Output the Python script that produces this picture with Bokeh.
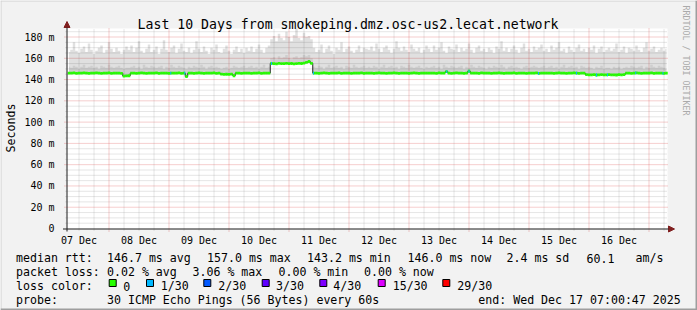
import math
from bokeh.plotting import figure
from bokeh.models import Range1d, FixedTicker, LinearAxis, Label, Arrow, NormalHead
from bokeh.embed import file_html
from bokeh.resources import INLINE

# ---------------- data (hours since 07 Dec 00:00, one sample per hour, 08:00 Dec 7 .. 07:00 Dec 17)
hours = list(range(8, 248))

smoke_top = [
    166, 168, 175, 167, 165, 169, 171, 166, 174, 168, 164, 167, 170, 172, 165, 168, 175, 169, 166, 170, 167, 164, 168, 171,
    168, 172, 166, 170, 176, 167, 165, 169, 173, 166, 168, 171, 164, 169, 177, 168, 166, 170, 172, 165, 169, 174, 167, 166,
    170, 165, 168, 176, 169, 166, 171, 167, 164, 170, 168, 173, 166, 165, 169, 172, 167, 164, 168, 171, 166, 169, 165, 170,
    167, 171, 166, 169, 173, 168, 165, 170, 172, 178, 181, 176, 183, 179, 177, 185, 180, 176, 182, 188, 179, 177, 184, 180,
    181, 178, 170, 166, 168, 173, 165, 169, 172, 167, 164, 170, 168, 175, 166, 169, 171, 167, 165, 168, 172, 166, 170, 169,
    168, 171, 167, 174, 169, 166, 170, 172, 168, 165, 169, 176, 170, 167, 171, 168, 166, 173, 169, 167, 170, 165, 168, 172,
    169, 166, 172, 168, 170, 175, 167, 165, 171, 169, 168, 173, 166, 170, 167, 169, 174, 168, 165, 170, 172, 167, 169, 166,
    170, 168, 165, 171, 169, 176, 167, 170, 166, 169, 172, 168, 165, 170, 174, 167, 169, 166, 171, 168, 170, 173, 167, 169,
    166, 172, 168, 170, 175, 167, 169, 165, 171, 168, 166, 170, 173, 167, 169, 166, 170, 168, 172, 165, 169, 171, 166, 168,
    170, 167, 169, 174, 166, 168, 171, 165, 170, 169, 167, 172, 168, 166, 170, 175, 167, 169, 171, 166, 168, 170, 167, 169,
]

smoke_core = [
    152, 151, 153, 152, 150, 152, 154, 151, 152, 153, 151, 152, 150, 153, 152, 151, 154, 152, 151, 152, 153, 151, 150, 151,
    151, 152, 153, 151, 152, 150, 154, 152, 151, 153, 152, 151, 152, 153, 150, 152, 151, 154, 152, 151, 153, 152, 151, 150,
    152, 151, 153, 152, 151, 154, 152, 150, 152, 153, 151, 152, 151, 150, 151, 152, 150, 151, 153, 152, 151, 152, 153, 151,
    152, 153, 151, 152, 150, 152, 154, 151, 152, 160, 161, 159, 162, 160, 161, 163, 160, 159, 161, 162, 160, 161, 163, 162,
    163, 160, 152, 151, 153, 152, 150, 152, 154, 151, 152, 153, 151, 152, 150, 153, 152, 151, 154, 152, 151, 152, 153, 151,
    152, 151, 153, 152, 150, 152, 154, 151, 152, 153, 151, 152, 150, 153, 152, 151, 154, 152, 151, 152, 153, 151, 150, 152,
    151, 152, 153, 151, 152, 150, 154, 152, 151, 153, 152, 151, 152, 153, 150, 152, 151, 154, 152, 151, 153, 152, 151, 150,
    152, 151, 153, 152, 151, 154, 152, 150, 152, 153, 151, 152, 151, 150, 152, 153, 151, 152, 153, 152, 151, 152, 153, 151,
    152, 153, 151, 152, 150, 152, 154, 151, 152, 153, 151, 152, 150, 153, 152, 151, 152, 151, 150, 152, 151, 153, 150, 151,
    151, 150, 152, 151, 152, 150, 151, 152, 151, 153, 152, 151, 152, 153, 150, 152, 151, 154, 152, 151, 153, 152, 151, 150,
]

median_rtt = [
    146.1, 146.0, 146.2, 145.9, 146.0, 146.1, 146.3, 146.0, 145.9, 146.1, 146.0, 146.2, 146.0, 145.8, 146.1, 146.0, 146.2, 145.9, 146.0, 146.1, 146.0, 145.9, 143.2, 143.4,
    143.6, 146.0, 146.1, 145.9, 146.0, 146.2, 146.0, 145.9, 146.1, 146.0, 146.0, 146.2, 145.9, 146.0, 146.1, 146.0, 145.8, 146.0, 146.1, 146.0, 146.2, 145.9, 146.0, 142.9,
    146.0, 146.1, 145.9, 146.0, 146.2, 146.0, 145.9, 146.1, 146.0, 146.0, 146.2, 145.9, 146.0, 145.1, 144.9, 145.0, 144.8, 145.1, 143.6, 146.0, 146.1, 145.9, 146.0, 146.1,
    146.0, 145.9, 146.1, 146.0, 146.2, 145.9, 146.0, 146.1, 146.0, 155.1, 155.0, 154.8, 155.2, 155.0, 154.9, 155.3, 155.0, 155.1, 154.8, 155.0, 155.2, 155.1, 155.4, 156.2,
    157.0, 155.3, 146.0, 146.1, 145.9, 146.0, 146.2, 146.0, 145.9, 146.1, 146.0, 146.0, 146.2, 145.9, 146.0, 146.1, 146.0, 145.8, 146.0, 146.1, 146.0, 146.2, 145.9, 146.0,
    146.1, 146.0, 145.9, 146.0, 146.2, 146.0, 146.1, 145.9, 146.0, 146.0, 146.2, 146.1, 145.9, 146.0, 146.1, 146.0, 145.8, 146.0, 146.2, 146.0, 145.9, 146.1, 146.0, 146.0,
    146.0, 146.1, 146.0, 145.9, 146.2, 146.0, 146.1, 147.5, 146.0, 145.9, 146.0, 146.2, 146.0, 146.1, 145.9, 146.0, 147.8, 146.0, 146.1, 146.0, 145.9, 146.2, 146.0, 146.1,
    146.0, 145.9, 146.1, 146.0, 146.2, 146.0, 145.9, 146.1, 146.0, 146.0, 146.2, 145.9, 146.0, 146.1, 146.0, 145.8, 146.0, 146.1, 146.0, 146.2, 145.9, 146.0, 146.1, 146.0,
    146.1, 146.0, 145.9, 146.0, 146.2, 146.0, 146.1, 145.9, 146.0, 146.0, 146.2, 146.1, 145.9, 146.0, 146.1, 144.6, 144.4, 144.5, 144.7, 144.3, 144.5, 144.6, 144.4, 144.5,
    144.6, 144.4, 144.5, 144.3, 144.6, 144.5, 144.7, 146.0, 146.1, 145.9, 146.0, 146.2, 146.0, 145.9, 146.1, 146.0, 146.0, 146.2, 145.9, 146.0, 146.1, 146.0, 145.8, 146.0,
]

# packet loss events (hour, lost pings out of 30)
loss_times = [48.7, 54.3, 89.0, 105.8, 159.1, 168.0, 195.8, 211.0, 219.0, 223.4, 234.7, 245.6]
loss_counts = [1, 1, 1, 1, 1, 1, 1, 1, 1, 1, 1, 1]

loss_levels = ["0", "1/30", "2/30", "3/30", "4/30", "15/30", "29/30"]
loss_colors = ["#26ff00", "#00b8ff", "#0059ff", "#5e00ff", "#7e00ff", "#dd00ff", "#ff0000"]
loss_level_counts = [0, 1, 2, 3, 4, 15, 29]

day_noon_hours = [12, 36, 60, 84, 108, 132, 156, 180, 204, 228]
day_labels = ["07 Dec", "08 Dec", "09 Dec", "10 Dec", "11 Dec", "12 Dec", "13 Dec", "14 Dec", "15 Dec", "16 Dec"]
midnight_hours = [24, 48, 72, 96, 120, 144, 168, 192, 216, 240]
six_hour_marks = [12, 18, 30, 36, 42, 54, 60, 66, 78, 84, 90, 102, 108, 114, 126, 132, 138, 150, 156, 162,
                  174, 180, 186, 198, 204, 210, 222, 228, 234, 246]

y_tick_values = [0, 20, 40, 60, 80, 100, 120, 140, 160, 180]
y_tick_labels = ["0", "20 m", "40 m", "60 m", "80 m", "100 m", "120 m", "140 m", "160 m", "180 m"]
y_minor_values = [5, 10, 15, 25, 30, 35, 45, 50, 55, 65, 70, 75, 85, 90, 95, 105, 110, 115,
                  125, 130, 135, 145, 150, 155, 165, 170, 175, 185]

title_text = "Last 10 Days from smokeping.dmz.osc-us2.lecat.network"
rtt_stats = ["146.7 ms avg", "157.0 ms max", "143.2 ms min", "146.0 ms now", "2.4 ms sd", "60.1", "am/s"]
loss_stats = ["0.02 % avg", "3.06 % max", "0.00 % min", "0.00 % now"]
probe_text = "30 ICMP Echo Pings (56 Bytes) every 60s"
end_text = "end: Wed Dec 17 07:00:47 2025"

# ---------------- layout: the frame covers the whole canvas, the graph area is a sub-rectangle
W, H = 697, 310
GL, GR, GT, GB = 67, 667, 28, 228          # graph area in pixels
X0 = 7.4                                    # hours at graph left edge
PXH = 2.5                                   # pixels per hour
X1 = X0 + (GR - GL) / PXH
Y0, Y1 = 0.0, 188.0
PXV = (GB - GT) / (Y1 - Y0)                 # pixels per ms
MONO = "DejaVu Sans Mono"


def dx(px):
    return X0 + (px - GL) / PXH


def dy(py):
    return Y0 + (GB - py) / PXV


p = figure(width=W, height=H, output_backend="svg", toolbar_location=None, title=None,
           x_axis_type=None, y_axis_type=None,
           x_range=Range1d(dx(0), dx(W)), y_range=Range1d(dy(H), dy(0)),
           min_border=0, min_border_left=0, min_border_right=0, min_border_top=0, min_border_bottom=0)
p.background_fill_color = "#f2f2f2"
p.border_fill_color = "#f2f2f2"
p.outline_line_color = None
p.grid.visible = False

# graph canvas
p.quad(left=X0, right=X1, bottom=Y0, top=Y1, fill_color="#ffffff", line_color=None)

# grid (minor gray dotted, major red dotted); slightly extended outside as rrdtool ticks
p.segment(x0=six_hour_marks, x1=six_hour_marks, y0=dy(GB + 2), y1=Y1,
          line_color="#8f8f8f", line_alpha=0.45, line_width=1, line_dash="1 1")
p.segment(x0=dx(GL - 2), x1=X1, y0=y_minor_values, y1=y_minor_values,
          line_color="#8f8f8f", line_alpha=0.45, line_width=1, line_dash="1 1")
p.segment(x0=midnight_hours, x1=midnight_hours, y0=dy(GB + 3), y1=Y1,
          line_color="#de4f4f", line_alpha=0.55, line_width=1, line_dash="1 1")
p.segment(x0=dx(GL - 3), x1=X1, y0=y_tick_values[1:], y1=y_tick_values[1:],
          line_color="#de4f4f", line_alpha=0.55, line_width=1, line_dash="1 1")

# smoke
p.varea_step(x=hours, y1=median_rtt, y2=smoke_top, step_mode="center", fill_color="#000000", fill_alpha=0.12)
p.varea_step(x=hours, y1=median_rtt, y2=smoke_core, step_mode="center", fill_color="#000000", fill_alpha=0.08)

# median line
p.step(x=hours, y=median_rtt, mode="center", line_color="#202020", line_width=1)
p.segment(x0=[h - 0.5 for h in hours], x1=[h + 0.5 for h in hours], y0=median_rtt, y1=median_rtt,
          line_color=loss_colors[0], line_width=2.8)
loss_y = [median_rtt[int(round(t)) - hours[0]] for t in loss_times]
loss_col = [loss_colors[loss_level_counts.index(c)] for c in loss_counts]
p.segment(x0=[t - 0.2 for t in loss_times], x1=[t + 0.2 for t in loss_times], y0=loss_y, y1=loss_y,
          line_color=loss_col, line_width=2.8)

# axes fixed at the graph edges
xa = LinearAxis(fixed_location=Y0, bounds=(X0, X1), ticker=FixedTicker(ticks=day_noon_hours))
xa.major_label_overrides = {t: l for t, l in zip(day_noon_hours, day_labels)}
ya = LinearAxis(fixed_location=X0, bounds=(Y0, Y1), ticker=FixedTicker(ticks=y_tick_values))
ya.major_label_overrides = {t: l for t, l in zip(y_tick_values, y_tick_labels)}
for ax in (xa, ya):
    ax.axis_line_color = None
    ax.major_tick_line_color = None
    ax.minor_tick_line_color = None
    ax.major_label_text_font = MONO
    ax.major_label_text_font_size = "10px"
    ax.major_label_text_color = "#000000"
xa.major_label_standoff = 0
ya.major_label_standoff = 7
p.add_layout(xa, "below")
p.add_layout(ya, "left")

# axis lines with arrows
arrow_col = "#801f1f"
p.add_layout(Arrow(end=NormalHead(size=6, fill_color=arrow_col, line_color=arrow_col),
                   x_start=dx(66.5), y_start=dy(231), x_end=dx(66.5), y_end=dy(21),
                   line_color="#1f1f1f", line_width=1))
p.add_layout(Arrow(end=NormalHead(size=6, fill_color=arrow_col, line_color=arrow_col),
                   x_start=dx(62.5), y_start=dy(228.5), x_end=dx(674), y_end=dy(228.5),
                   line_color="#1f1f1f", line_width=1))


# texts
def lab(text, px, py, size="11.6px", align="left", baseline="alphabetic", angle=0.0, color="#000000"):
    p.add_layout(Label(x=dx(px), y=dy(py), text=text, text_font=MONO, text_font_size=size,
                       text_align=align, text_baseline=baseline, angle=angle, text_color=color))


lab(title_text, 347.5, 24, size="13.2px", align="center")
lab("Seconds", 10.5, 127.5, align="center", baseline="middle", angle=math.pi / 2)
lab("RRDTOOL / TOBI OETIKER", 685.5, 5, size="8.3px", baseline="middle", angle=-math.pi / 2, color="#aaaaaa")

row1, row2, row3, row4 = 257.7, 271.7, 285.7, 299.7
lab("median rtt:", 15.5, row1)
for t, x in zip(rtt_stats, [106.5, 206.5, 306.5, 407.0, 506.0, 586.0, 635.0]):
    lab(t, x, row1)
lab("packet loss:", 15.5, row2)
for t, x in zip(loss_stats, [106.5, 192.0, 278.0, 363.5]):
    lab(t, x, row2)
lab("loss color:", 15.5, row3)
sq_left = [108.7, 146.0, 203.3, 261.7, 319.3, 377.7, 442.3]
sq_text = [122.8, 160.2, 217.8, 275.5, 332.8, 392.2, 456.8]
p.quad(left=[dx(b) for b in sq_left], right=[dx(b + 7) for b in sq_left], top=dy(279), bottom=dy(286),
       fill_color=loss_colors, line_color="#000000", line_width=1)
for name, tx in zip(loss_levels, sq_text):
    lab(name, tx, row3)
lab("probe:", 15.5, row4)
lab(probe_text, 106.5, row4)
lab(end_text, 477.8, row4)

# 3D border shading
p.quad(left=dx(0), right=dx(W), top=dy(0), bottom=dy(1), fill_color="#cfcfcf", line_color=None)
p.quad(left=dx(0), right=dx(1), top=dy(0), bottom=dy(H), fill_color="#cfcfcf", line_color=None)
p.quad(left=dx(W - 2), right=dx(W), top=dy(0), bottom=dy(H), fill_color="#9e9e9e", line_color=None)
p.quad(left=dx(0), right=dx(W), top=dy(H - 2), bottom=dy(H), fill_color="#9e9e9e", line_color=None)

open("out.html", "w").write(file_html(p, INLINE))
